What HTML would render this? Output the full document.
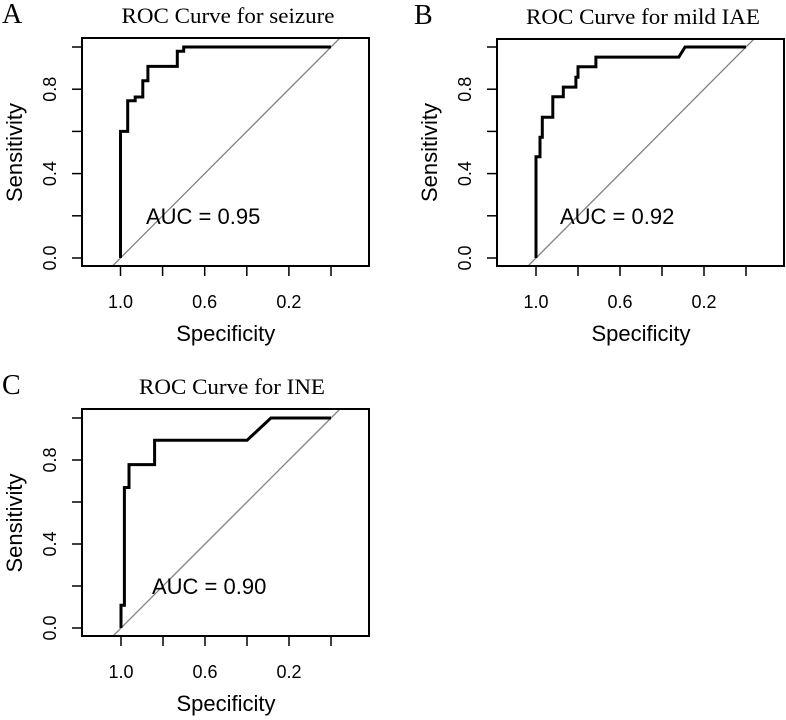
<!DOCTYPE html>
<html><head><meta charset="utf-8"><style>
html,body{margin:0;padding:0;background:#fff;}
svg{display:block;}
.serif{font-family:"Liberation Serif",serif;}
.sans{font-family:"Liberation Sans",sans-serif;}
</style></head><body>
<svg id="chart" width="786" height="720" viewBox="0 0 786 720"></svg>
<script>
// Panel A data (specificity, sensitivity vertices)
const specA = [1, 1, 0.966, 0.966, 0.93, 0.93, 0.894, 0.894, 0.87, 0.87, 0.73, 0.73, 0.70, 0.70, 0];
const sensA = [0, 0.6, 0.6, 0.745, 0.745, 0.763, 0.763, 0.84, 0.84, 0.908, 0.908, 0.98, 0.98, 1, 1];
// Panel B data
const specB = [1, 1, 0.981, 0.981, 0.97, 0.97, 0.92, 0.92, 0.87, 0.87, 0.81, 0.81, 0.80, 0.80, 0.715, 0.715, 0.32, 0.29, 0];
const sensB = [0, 0.48, 0.48, 0.572, 0.572, 0.667, 0.667, 0.764, 0.764, 0.81, 0.81, 0.857, 0.857, 0.906, 0.906, 0.952, 0.952, 1, 1];
// Panel C data
const specC = [1, 1, 0.984, 0.984, 0.962, 0.962, 0.84, 0.84, 0.40, 0.286, 0];
const sensC = [0, 0.108, 0.108, 0.669, 0.669, 0.778, 0.778, 0.894, 0.894, 1, 1];
const xTickLabels = ["1.0", "0.6", "0.2"];
const xTicks = [1.0, 0.8, 0.6, 0.4, 0.2, 0.0];
const yTicks = [0.0, 0.2, 0.4, 0.6, 0.8, 1.0];
const yTickLabels = ["0.0", "0.4", "0.8"];
const aucLabels = ["AUC = 0.95", "AUC = 0.92", "AUC = 0.90"];
const titles = ["ROC Curve for seizure", "ROC Curve for mild IAE", "ROC Curve for INE"];
const letters = ["A", "B", "C"];

const NS = "http://www.w3.org/2000/svg";
const svg = document.getElementById("chart");
function mk(tag, attrs, parent, text) {
  const e = document.createElementNS(NS, tag);
  for (const k in attrs) e.setAttribute(k, attrs[k]);
  if (text !== undefined) e.textContent = text;
  (parent || svg).appendChild(e);
  return e;
}

const panels = [
  {box: [82, 38, 369, 266], x1: 120.5, x0: 331, y0: 258, y1: 47, spec: specA, sens: sensA, letterX: 2, titleX: 228, titleW: 213, aucX: 146},
  {box: [497, 39, 784, 266], x1: 536, x0: 746, y0: 258, y1: 47, spec: specB, sens: sensB, letterX: 414, titleX: 643, titleW: 234, aucX: 560},
  {box: [82, 409, 369, 636], x1: 121, x0: 331, y0: 628, y1: 418, spec: specC, sens: sensC, letterX: 2, titleX: 232, titleW: 186, aucX: 152}
];

panels.forEach((p, i) => {
  const g = mk("g", {});
  
  
  const xs = v => p.x0 + (p.x1 - p.x0) * v;
  const ys = v => p.y0 + (p.y1 - p.y0) * v;
  const [L, T, R, B] = p.box;

  const letter = mk("text", {x: p.letterX, y: T - 15, "font-size": 28, class: "serif"}, g, letters[i]);
  
  
  const title = mk("text", {x: p.titleX, y: T - 15, "font-size": 22, "text-anchor": "middle", textLength: p.titleW, lengthAdjust: "spacingAndGlyphs", class: "serif"}, g, titles[i]);
  
  

  const cid = "clip" + i;
  const cp = mk("clipPath", {id: cid}, g);
  mk("rect", {x: L, y: T, width: R - L, height: B - T}, cp);

  const diag = mk("line", {x1: xs(1.2), y1: ys(-0.2), x2: xs(-0.2), y2: ys(1.2), stroke: "#808080", "stroke-width": 1.3, "clip-path": "url(#" + cid + ")"}, g);
  
  

  const pts = p.spec.map((s, k) => xs(s).toFixed(1) + "," + ys(p.sens[k]).toFixed(1)).join(" ");
  const curve = mk("polyline", {points: pts, fill: "none", stroke: "#000", "stroke-width": 3, "stroke-linejoin": "miter"}, g);
  
  

  const box = mk("rect", {x: L, y: T, width: R - L, height: B - T, fill: "none", stroke: "#000", "stroke-width": 2}, g);
  
  

  const xa = mk("g", {}, g);
  
  
  xTicks.forEach(v => {
    mk("line", {x1: xs(v), y1: B, x2: xs(v), y2: B + 10, stroke: "#000", "stroke-width": 1.5}, xa);
  });
  xTickLabels.forEach(l => {
    const t = mk("text", {x: xs(parseFloat(l)), y: B + 42, "font-size": 18, "text-anchor": "middle", class: "sans"}, xa, l);
    
    
  });
  const xt = mk("text", {x: (xs(1) + xs(0)) / 2, y: B + 75, "font-size": 22, "text-anchor": "middle", class: "sans"}, xa, "Specificity");
  
  

  const ya = mk("g", {}, g);
  
  
  yTicks.forEach(v => {
    mk("line", {x1: L, y1: ys(v), x2: L - 10, y2: ys(v), stroke: "#000", "stroke-width": 1.5}, ya);
  });
  yTickLabels.forEach(l => {
    const yy = ys(parseFloat(l)), xx = L - 26;
    const t = mk("text", {x: xx, y: yy, "font-size": 18, "text-anchor": "middle", transform: "rotate(-90 " + xx + " " + yy + ")", class: "sans"}, ya, l);
    
    
  });
  const yc = (ys(0) + ys(1)) / 2, yx = L - 60;
  const yt = mk("text", {x: yx, y: yc, "font-size": 22, "text-anchor": "middle", transform: "rotate(-90 " + yx + " " + yc + ")", class: "sans"}, ya, "Sensitivity");
  
  

  const auc = mk("text", {x: p.aucX, y: ys(0.2) + 8, "font-size": 22, class: "sans"}, g, aucLabels[i]);
  
  
});
</script>
</body></html>
